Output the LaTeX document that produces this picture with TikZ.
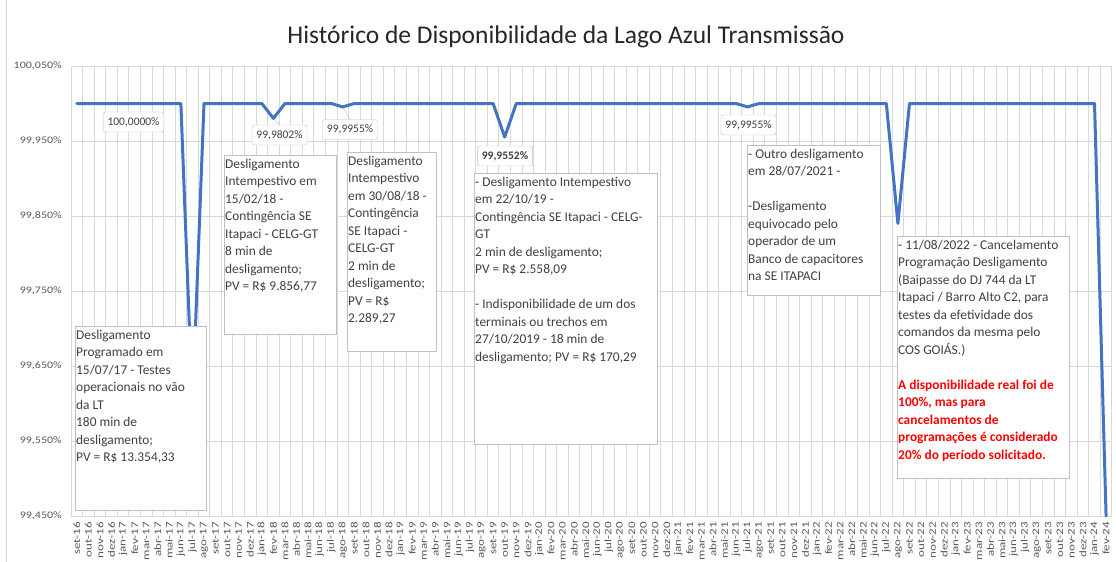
\documentclass[tikz,border=0pt]{standalone}
\usepackage{fontspec}
\setmainfont{Carlito}
\definecolor{cserie}{HTML}{4472C4}
\definecolor{cgrade}{HTML}{D9D9D9}
\definecolor{cborda}{HTML}{BFBFBF}
\definecolor{ctexto}{HTML}{404040}
\definecolor{ceixo}{HTML}{595959}
\definecolor{cvermelho}{HTML}{FF0000}
\newcommand\mesnome[1]{\ifcase#1 jan\or fev\or mar\or abr\or mai\or jun\or jul\or ago\or set\or out\or nov\or dez\fi}
\newcommand\alerta[1]{\textcolor{cvermelho}{\bfseries #1}}
\tikzset{
  serie/.style={cserie, line width=3pt, line join=round, line cap=round},
  grade/.style={cgrade, line width=0.9pt},
  caixa/.style={draw=cborda, fill=white, line width=1pt, anchor=north west, inner sep=0pt},
  nota/.style={anchor=north west, align=left, inner xsep=1pt, inner ysep=3.5pt, text=ctexto, font=\fontsize{13.4}{17.5}\selectfont},
  rotulo/.style={draw=cborda, fill=white, rounded corners=2.5pt, text=ctexto, font=\fontsize{11.5}{12}\selectfont, inner xsep=4.5pt, inner ysep=2pt, minimum height=20pt},
  mes/.style={rotate=90, anchor=east, inner sep=0pt, text=ceixo, font=\fontsize{10}{10}\selectfont},
  pct/.style={anchor=east, inner sep=0pt, text=ceixo, font=\fontsize{10}{11}\selectfont},
}
\begin{document}
\begin{tikzpicture}[x=1pt,y=-1pt]
\useasboundingbox (0,0) rectangle (1116,562);
\def\dx{11.565}
\draw[grade] (6,0) -- (6,562);
\node[font=\fontsize{25.5}{28}\selectfont, text=black!85] (titulo) at (566,37) {Histórico de Disponibilidade da Lago Azul Transmissão};
\foreach \k/\r in {0/{100,050},1/{99,950},2/{99,850},3/{99,750},4/{99,650},5/{99,550},6/{99,450}}{
  \draw[grade] (71,66+75*\k) -- (1111.5,66+75*\k);
  \node[pct] (y\k) at (62,66+75*\k) {\scalebox{1.2}[1]{\r\%}};
}
\foreach \i in {0,...,90} \draw[grade] ({71+\i*\dx},66) -- ({71+\i*\dx},516);
\foreach \i in {0,...,89}{
  \coordinate (p\i) at ({71+(\i+0.5)*\dx},103.5);
  \pgfmathtruncatemacro\m{mod(\i+8,12)}
  \pgfmathtruncatemacro\a{16+floor((\i+8)/12)}
  \node[mes] (m\i) at ({71+(\i+0.5)*\dx},522) {\scalebox{1.3}[1]{\mesnome{\m}-\a}};
}
\foreach \i/\v in {10/99.597,17/99.9802,23/99.9955,37/99.9552,58/99.9955,71/99.84,89/99.45}
  \coordinate (p\i) at ({71+(\i+0.5)*\dx},{103.5+(100-\v)*750});
\node[rotulo] (r10) at (133.5,122) {100,0000\%};
\node[rotulo] (r17) at (279.5,135) {99,9802\%};
\node[rotulo] (r23) at (350,129.5) {99,9955\%};
\node[rotulo, font=\fontsize{11.5}{12}\selectfont\bfseries] (r37) at (505,156) {99,9552\%};
\node[rotulo] (r58) at (748.5,125) {99,9955\%};
\draw[cborda] (r17.north) -- (p17);
\draw[cborda] (r23.north) -- (p23);
\draw[serie] (p0) -- (p9) -- (p10) -- (p11) -- (p16) -- (p17) -- (p18) -- (p22) -- (p23) -- (p24)
  -- (p36) -- (p37) -- (p38) -- (p57) -- (p58) -- (p59) -- (p70) -- (p71) -- (p72) -- (p88) -- (p89);
\node[caixa, minimum width=131pt, minimum height=184pt] (cx10) at (75,326) {};
\node[nota] (tx10) at (cx10.north west) {Desligamento\\Programado em\\15/07/17 - Testes\\operacionais no vão\\da LT\\180 min de\\desligamento;\\PV = R\$ 13.354,33};
\node[caixa, minimum width=112pt, minimum height=179pt] (cx17) at (224,155) {};
\node[nota] (tx17) at (cx17.north west) {Desligamento\\Intempestivo em\\15/02/18 -\\Contingência SE\\Itapaci - CELG-GT\\8 min de\\desligamento;\\PV = R\$ 9.856,77};
\node[caixa, minimum width=89pt, minimum height=199pt] (cx23) at (347,152) {};
\node[nota] (tx23) at (cx23.north west) {Desligamento\\Intempestivo\\em 30/08/18 -\\Contingência\\SE Itapaci -\\CELG-GT\\2 min de\\desligamento;\\PV = R\$\\2.289,27};
\node[caixa, minimum width=183pt, minimum height=271pt] (cx37) at (474,173) {};
\node[nota] (tx37) at (cx37.north west) {- Desligamento Intempestivo\\em 22/10/19 -\\Contingência SE Itapaci - CELG-\\GT\\2 min de desligamento;\\PV = R\$ 2.558,09\\[17.5pt]- Indisponibilidade de um dos\\terminais ou trechos em\\27/10/2019 - 18 min de\\desligamento; PV = R\$ 170,29};
\node[caixa, minimum width=133pt, minimum height=150pt] (cx58) at (747,145) {};
\node[nota] (tx58) at (cx58.north west) {- Outro desligamento\\em 28/07/2021 -\\[17.5pt]-Desligamento\\equivocado pelo\\operador de um\\Banco de capacitores\\na SE ITAPACI};
\node[caixa, minimum width=172pt, minimum height=242pt] (cx71) at (897,236) {};
\node[nota] (tx71) at (cx71.north west) {- 11/08/2022 - Cancelamento\\Programação Desligamento\\(Baipasse do DJ 744 da LT\\Itapaci / Barro Alto C2, para\\testes da efetividade dos\\comandos da mesma pelo\\COS GOIÁS.)\\[17.5pt]\alerta{A disponibilidade real foi de}\\\alerta{100\%, mas para}\\\alerta{cancelamentos de}\\\alerta{programações é considerado}\\\alerta{20\% do período solicitado.}};
\end{tikzpicture}
\end{document}
